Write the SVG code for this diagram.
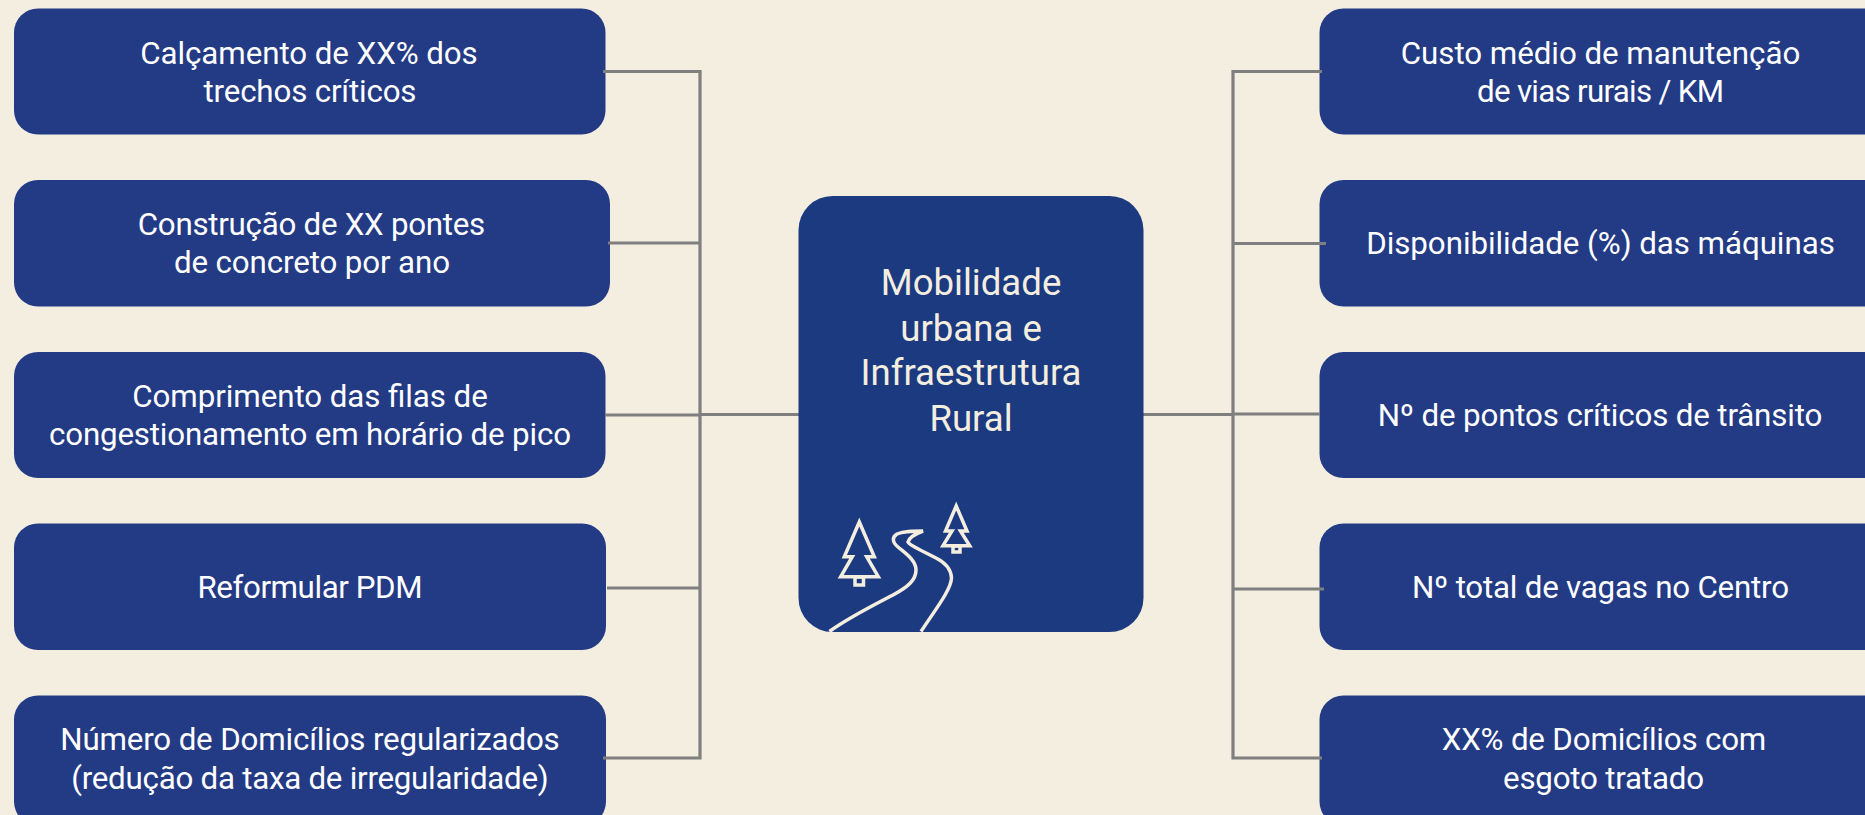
<svg xmlns="http://www.w3.org/2000/svg" width="1865" height="815" viewBox="0 0 1865 815">
<style>
.bg{fill:#f4eee0}
.box{fill:#233a85}
.center{fill:#1b3a80}
.t{font-family:"Roboto","Liberation Sans",sans-serif;font-size:31.3px;fill:#fff;text-anchor:middle}
.c{font-family:"Roboto","Liberation Sans",sans-serif;font-size:36.6px;fill:#f4eee0;text-anchor:middle}
.line{fill:none;stroke:#7f7f7f;stroke-width:3.2}
.ic{fill:none;stroke:#f4eee0;stroke-width:3.5;stroke-linejoin:miter}
</style>
<rect class="bg" width="1865" height="815"/>
<g id="n1"><rect class="box" x="14" y="8.500" width="591.500" height="126" rx="24"/><text class="t" x="309" y="64" textLength="337.500">Calçamento de XX% dos</text><text class="t" x="310" y="102" textLength="213">trechos críticos</text></g>
<g id="n2"><rect class="box" x="14" y="180" width="596" height="126.500" rx="24"/><text class="t" x="311.500" y="235" textLength="347.500">Construção de XX pontes</text><text class="t" x="312" y="273" textLength="276">de concreto por ano</text></g>
<g id="n3"><rect class="box" x="14" y="352" width="591.500" height="126" rx="24"/><text class="t" x="310" y="407" textLength="355.500">Comprimento das filas de</text><text class="t" x="310" y="445" textLength="522">congestionamento em horário de pico</text></g>
<g id="n4"><rect class="box" x="14" y="523.500" width="592" height="126.500" rx="24"/><text class="t" x="310" y="598" textLength="225">Reformular PDM</text></g>
<g id="n5"><rect class="box" x="14" y="695.500" width="592" height="130" rx="24"/><text class="t" x="310" y="750" textLength="499.500">Número de Domicílios regularizados</text><text class="t" x="310" y="789" textLength="477.500">(redução da taxa de irregularidade)</text></g>
<g id="n6"><rect class="box" x="1319.500" y="8.500" width="570" height="126" rx="24"/><text class="t" x="1600.500" y="64" textLength="399.500">Custo médio de manutenção</text><text class="t" x="1600.500" y="102" textLength="247">de vias rurais / KM</text></g>
<g id="n7"><rect class="box" x="1319.500" y="180" width="570" height="126.500" rx="24"/><text class="t" x="1600.500" y="254" textLength="468.600">Disponibilidade (%) das máquinas</text></g>
<g id="n8"><rect class="box" x="1319.500" y="352" width="570" height="126" rx="24"/><text class="t" x="1600" y="426" textLength="444.700">Nº de pontos críticos de trânsito</text></g>
<g id="n9"><rect class="box" x="1319.500" y="523.500" width="570" height="126.500" rx="24"/><text class="t" x="1600.500" y="598" textLength="377">Nº total de vagas no Centro</text></g>
<g id="n10"><rect class="box" x="1319.500" y="695.500" width="570" height="130" rx="24"/><text class="t" x="1604" y="750" textLength="324.600">XX% de Domicílios com</text><text class="t" x="1603.500" y="789" textLength="201">esgoto tratado</text></g>
<g id="connectors">
<path class="line" d="M603 71.500H700V758H603M608 243H700M605 415H700M607 588H700M700 414.500H799"/>
<path class="line" d="M1322 71.500H1233V758H1322M1326 243.500H1233M1320 414H1233M1324 589H1233M1233 414.500H1143"/>
</g>
<g id="center"><rect class="center" x="798.500" y="196" width="345" height="436" rx="34"/>
<text class="c" x="971" y="295">Mobilidade</text><text class="c" x="971" y="341">urbana e</text><text class="c" x="971" y="385">Infraestrutura</text><text class="c" x="971" y="431">Rural</text>
<path class="ic" d="M859.300 522L874.300 556.700H866.700L878.300 576.700H840.700L852.300 556.700H844.300Z"/>
<rect class="ic" x="855" y="577" width="8.500" height="8"/>
<path class="ic" d="M956.200 506L967 531H960.500L969.700 545.700H943L952 531H945.500Z"/>
<rect class="ic" x="953" y="546" width="7" height="6"/>
<path class="ic" d="M829.500 631.500C848 618 872 606 893 595C908 587 916 580 916 570C916 560 905 553 898 547C892 542 892 537 897 534C904 531 912 531 923 531C915 534 909 538 908 542C910 546 925 552 936 558C946 563 951 569 951.500 578C951 590 935 610 921 631.500"/>
</g>
</svg>
